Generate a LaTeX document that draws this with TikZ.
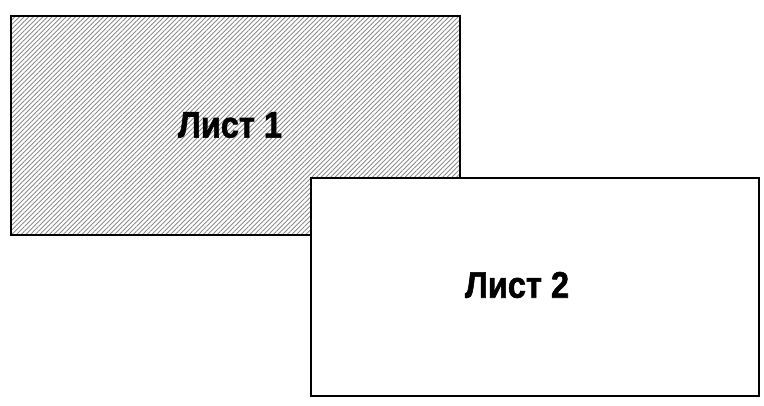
\documentclass[tikz,border=0pt]{standalone}
\usepackage{fontspec}
\newfontfamily\narrowsans[FakeStretch=0.88,FakeBold=1.5]{Liberation Sans Bold}
\usetikzlibrary{patterns.meta}
\begin{document}
\begin{tikzpicture}[x=1pt,y=-1pt,
  sheet/.style={draw=black,line width=2pt},
  lbl/.style={font=\narrowsans\fontsize{37}{40}\selectfont,inner sep=0pt}]
\useasboundingbox (0,0) rectangle (764,405);
\fill[white] (0,0) rectangle (764,405);
\node[sheet,minimum width=449pt,minimum height=219pt,anchor=north west,
  pattern={Lines[angle=45,distance=3.3pt,line width=0.9pt]},pattern color=black!45] (s1) at (11,16) {};
\node[sheet,fill=white,minimum width=448pt,minimum height=218pt,anchor=north west] (s2) at (309.5,176.5) {};
\node[lbl] (t1) at (230,125) {Лист 1};
\node[lbl] (t2) at (517,285) {Лист 2};
\end{tikzpicture}
\end{document}
